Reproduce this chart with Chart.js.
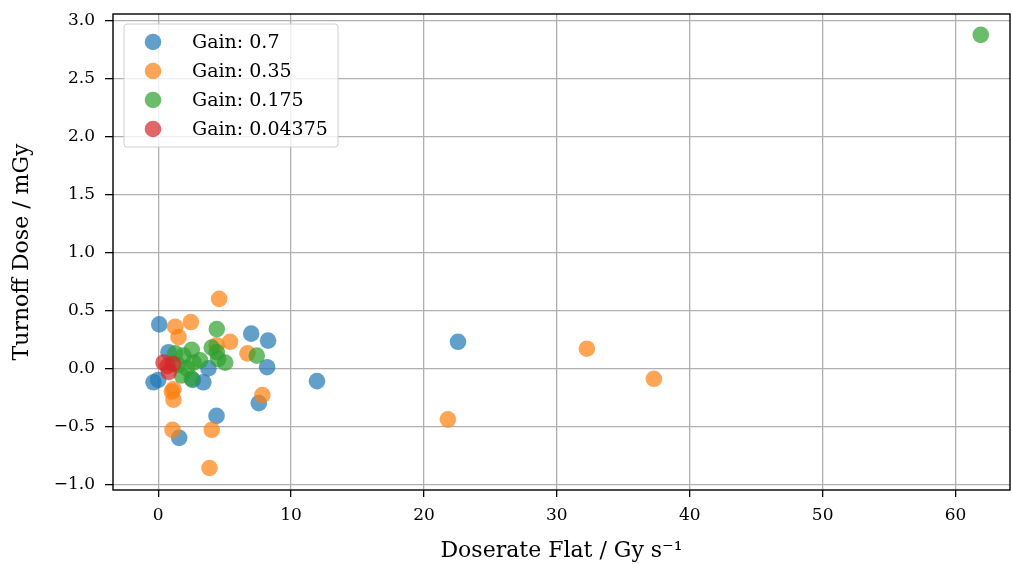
<!DOCTYPE html>
<html>
<head>
<meta charset="utf-8">
<script src="https://cdn.jsdelivr.net/npm/chart.js@4"></script>
<style>
  html, body { margin: 0; padding: 0; background: #fff; }
  #wrap { width: 1012px; height: 565px; }
</style>
</head>
<body>
<div id="wrap"><canvas id="chart" width="1012" height="565"></canvas></div>
<script>
// values
const gainLabels = ["Gain: 0.7", "Gain: 0.35", "Gain: 0.175", "Gain: 0.04375"];
const gainColors = ["rgba(31,119,180,0.7)", "rgba(255,127,14,0.7)", "rgba(44,160,44,0.7)", "rgba(214,39,40,0.7)"];

const blueX = [0.08, -0.35, 0.0, 7.0, 8.27, 8.2, 7.57, 4.39, 1.58, 3.4, 3.78, 0.78, 2.6, 11.95, 22.56];
const blueY = [0.38, -0.12, -0.10, 0.30, 0.24, 0.01, -0.30, -0.41, -0.60, -0.12, 0.0, 0.14, -0.10, -0.11, 0.23];

const orangeX = [4.59, 2.46, 1.28, 1.53, 5.41, 6.72, 4.4, 7.84, 1.03, 1.15, 1.08, 4.03, 3.86, 1.15, 21.8, 32.26, 37.3];
const orangeY = [0.60, 0.40, 0.36, 0.27, 0.23, 0.13, 0.20, -0.23, -0.20, -0.27, -0.53, -0.53, -0.86, -0.18, -0.44, 0.17, -0.09];

const greenX = [4.41, 7.42, 4.03, 4.41, 4.51, 5.04, 2.53, 1.9, 1.28, 2.66, 3.16, 2.16, 2.53, 1.78, 1.5, 61.9];
const greenY = [0.34, 0.11, 0.18, 0.14, 0.08, 0.05, 0.16, 0.11, 0.13, 0.05, 0.07, 0.0, -0.09, -0.06, 0.03, 2.88];

const redX = [0.4, 1.1, 0.8, 0.7];
const redY = [0.05, 0.04, -0.03, 0.02];

const xTicks = [0, 10, 20, 30, 40, 50, 60];
const yTicks = [-1.0, -0.5, 0.0, 0.5, 1.0, 1.5, 2.0, 2.5, 3.0];

const serif = "'DejaVu Serif', 'Liberation Serif', serif";

const toPoints = (xs, ys) => xs.map((x, i) => ({ x: x, y: ys[i] }));
const seriesX = [blueX, orangeX, greenX, redX];
const seriesY = [blueY, orangeY, greenY, redY];

// later gains sit on top, as in the original plot
const datasets = gainLabels.map((label, i) => ({
  label: label,
  data: toPoints(seriesX[i], seriesY[i]),
  backgroundColor: gainColors[i],
  borderWidth: 0,
  pointRadius: 8.3,
  pointHoverRadius: 8.3,
  order: gainLabels.length - i,
}));

const minus = (v) => String(v).replace("-", "\u2212");

// black frame round the plot area, like matplotlib spines
const framePlugin = {
  id: "frame",
  afterDraw(chart) {
    const { ctx, chartArea: a } = chart;
    ctx.save();
    ctx.strokeStyle = "#000";
    ctx.lineWidth = 1.4;
    ctx.strokeRect(a.left, a.top, a.right - a.left, a.bottom - a.top);
    ctx.restore();
  },
};

// legend drawn inside the plot, upper left
const insideLegend = {
  id: "insideLegend",
  afterDraw(chart) {
    const { ctx, chartArea: a } = chart;
    const x0 = a.left + 11, y0 = a.top + 10;
    const w = 214, h = 123;
    ctx.save();
    ctx.fillStyle = "rgba(255,255,255,0.8)";
    ctx.strokeStyle = "#d0d0d0";
    ctx.lineWidth = 1;
    ctx.beginPath();
    ctx.roundRect(x0, y0, w, h, 3);
    ctx.fill();
    ctx.stroke();
    ctx.font = "19px " + serif;
    ctx.textBaseline = "middle";
    chart.data.datasets.forEach((ds, i) => {
      const cy = y0 + 18 + i * 29;
      ctx.fillStyle = ds.backgroundColor;
      ctx.beginPath();
      ctx.arc(x0 + 29, cy, 8.3, 0, Math.PI * 2);
      ctx.fill();
      ctx.fillStyle = "#000";
      ctx.fillText(ds.label, x0 + 68, cy + 1);
    });
    ctx.restore();
  },
};

new Chart(document.getElementById("chart"), {
  type: "scatter",
  data: { datasets },
  options: {
    responsive: false,
    animation: false,
    layout: { autoPadding: false, padding: { top: 14, right: 2, left: 0, bottom: 0 } },
    plugins: {
      legend: { display: false },
      tooltip: { enabled: false },
    },
    scales: {
      x: {
        min: -3.4,
        max: 64.1,
        afterBuildTicks: (scale) => { scale.ticks = xTicks.map((v) => ({ value: v })); },
        afterFit: (scale) => {
          scale.height = 75;
          scale.paddingLeft = 0;
          scale.paddingRight = 0;
        },
        grid: { color: "#b0b0b0", lineWidth: 1.3, tickColor: "#000", tickLength: 7 },
        border: { display: false },
        ticks: { color: "#000", font: { family: serif, size: 17 }, padding: 8, callback: (v) => minus(v) },
        title: {
          display: true,
          text: "Doserate Flat / Gy s\u207B\u00B9",
          color: "#000",
          font: { family: serif, size: 22 },
          padding: { top: 0, bottom: 1 },
        },
      },
      y: {
        min: -1.05,
        max: 3.06,
        afterBuildTicks: (scale) => { scale.ticks = yTicks.map((v) => ({ value: v })); },
        afterFit: (scale) => {
          scale.width = 113;
          scale.paddingTop = 0;
          scale.paddingBottom = 0;
        },
        grid: { color: "#b0b0b0", lineWidth: 1.3, tickColor: "#000", tickLength: 8 },
        border: { display: false },
        ticks: { color: "#000", font: { family: serif, size: 17 }, padding: 10, callback: (v) => minus(v.toFixed(1)) },
        title: {
          display: true,
          text: "Turnoff Dose / mGy",
          color: "#000",
          font: { family: serif, size: 22 },
          padding: { top: 9, bottom: 0 },
        },
      },
    },
  },
  plugins: [framePlugin, insideLegend],
});
</script>
</body>
</html>
